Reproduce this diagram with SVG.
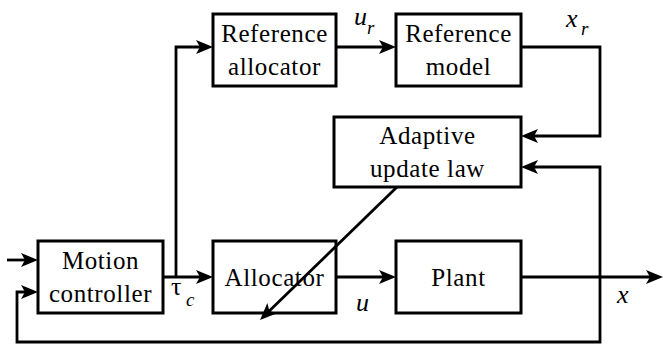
<svg xmlns="http://www.w3.org/2000/svg" width="663" height="345" viewBox="0 0 663 345">
<style>
.box{fill:#fff;stroke:#000;stroke-width:3}
.t{font-family:"Liberation Serif",serif;font-size:25px;letter-spacing:0.6px;fill:#000;text-anchor:middle}
.ln{fill:none;stroke:#000;stroke-width:2.8}
.a{marker-end:url(#ah)}
.m{font-family:"Liberation Serif",serif;font-style:italic;font-size:26px;fill:#000}
.ms{font-family:"Liberation Serif",serif;font-style:italic;font-size:19px;fill:#000}
.g{font-family:"Liberation Serif",serif;font-size:26px;fill:#000}
</style>
<defs>
<marker id="ah" markerUnits="userSpaceOnUse" markerWidth="18" markerHeight="15" refX="7" refY="7" orient="auto" overflow="visible">
<path d="M0,0 L17,7 L0,14 L4,7 Z" fill="#000"/>
</marker>
</defs>
<g id="connectors">
<path class="ln a" d="M7,260 H28"/>
<path class="ln a" d="M600,277 V342 H17 V292 H28"/>
<path class="ln a" d="M163,277 H203"/>
<path class="ln a" d="M176,277 V47 H203"/>
<path class="ln a" d="M336,47 H386"/>
<path class="ln a" d="M521,47 H600 V136 H531"/>
<path class="ln a" d="M600,277 V167 H531"/>
<path class="ln a" d="M336,277 H386"/>
<path class="ln a" d="M521,277 H653"/>
</g>
<g id="ref-allocator">
<rect class="box" x="213" y="14" width="123" height="72"/>
<text class="t" x="274.5" y="42">Reference</text>
<text class="t" x="274.5" y="75">allocator</text>
</g>
<g id="ref-model">
<rect class="box" x="396" y="14" width="125" height="72"/>
<text class="t" x="458.5" y="42">Reference</text>
<text class="t" x="458.5" y="75">model</text>
</g>
<g id="adaptive">
<rect class="box" x="334" y="117" width="187" height="70"/>
<text class="t" x="427.5" y="144">Adaptive</text>
<text class="t" x="427.5" y="177">update law</text>
</g>
<g id="motion">
<rect class="box" x="38" y="241" width="125" height="72"/>
<text class="t" x="100.5" y="269">Motion</text>
<text class="t" x="100.5" y="302">controller</text>
</g>
<g id="allocator">
<rect class="box" x="213" y="241" width="123" height="72"/>
<text class="t" x="274.5" y="286">Allocator</text>
</g>
<g id="plant">
<rect class="box" x="396" y="241" width="125" height="72"/>
<text class="t" x="458.5" y="286">Plant</text>
</g>
<g id="diagonal-connector">
<path class="ln a" d="M397,187 L267.2,313"/>
</g>
<g id="labels">
<text class="m" x="354" y="25">u</text><text class="ms" x="367" y="34">r</text>
<text class="m" x="566" y="27">x</text><text class="ms" x="581" y="35">r</text>
<text class="g" x="171" y="295">τ</text><text class="ms" x="186" y="306">c</text>
<text class="m" x="356" y="311">u</text>
<text class="m" x="617" y="303">x</text>
</g>
</svg>
